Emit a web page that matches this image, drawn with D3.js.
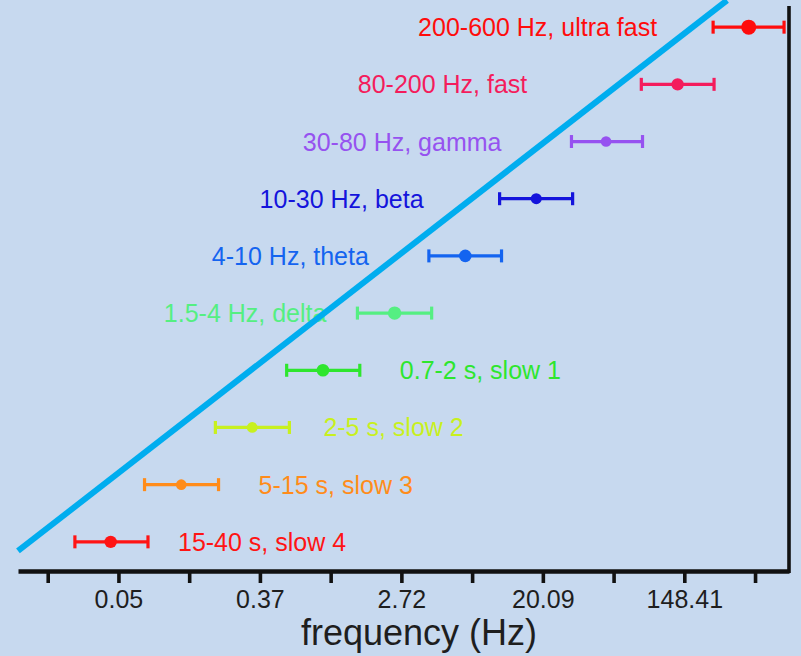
<!DOCTYPE html>
<html>
<head>
<meta charset="utf-8">
<script src="https://cdn.jsdelivr.net/npm/d3@7"></script>
<style>
  html, body { margin: 0; padding: 0; background: #c7d9ef; }
  svg { display: block; }
  text { font-family: "Liberation Sans", Arial, Helvetica, sans-serif; }
</style>
</head>
<body>
<svg id="chart" width="801" height="656"></svg>
<script>
// ---- data (bottom row first) ----
const bands = [
  "15-40 s, slow 4",
  "5-15 s, slow 3",
  "2-5 s, slow 2",
  "0.7-2 s, slow 1",
  "1.5-4 Hz, delta",
  "4-10 Hz, theta",
  "10-30 Hz, beta",
  "30-80 Hz, gamma",
  "80-200 Hz, fast",
  "200-600 Hz, ultra fast"
];
const centerHz = [0.0446, 0.121, 0.330, 0.897, 2.47, 6.71, 18.3, 49.1, 135, 369];
const lowHz    = [0.0269, 0.072, 0.196, 0.537, 1.46, 4.01, 10.9, 30.1, 80.8, 223];
const highHz   = [0.0756, 0.205, 0.558, 1.51, 4.17, 11.2, 30.6, 82.2, 226, 608];
const bandColors = ["#ff1414", "#ff8c1a", "#c8f01e", "#2ee62e", "#55ef82",
                    "#1464f0", "#1414dc", "#9652f0", "#f41c5c", "#ff0c0c"];
const tickExponents = [-4, -3, -2, -1, 0, 1, 2, 3, 4, 5, 6];
const tickLabels = {"-3": "0.05", "-1": "0.37", "1": "2.72", "3": "20.09", "5": "148.41"};
const trendHz  = [0.01203, 271.6];
const trendRow = [-0.16, 9.47];
const xTitle = "frequency (Hz)";

// ---- layout (not data) ----
const labelSide = ["right", "right", "right", "right", "left", "left", "left", "left", "left", "left"];
const labelGap  = [30, 40, 34, 40, 31, 60, 76, 70, 114, 56];
const dotR      = [6.2, 5.3, 5.4, 6.3, 6.7, 6.3, 5.5, 5.3, 6.2, 7.5];

const svg = d3.select("#chart");
svg.append("rect").attr("width", 801).attr("height", 656).attr("fill", "#c7d9ef");

const x = d3.scaleLog().base(Math.E)
  .domain([Math.exp(-4.42), Math.exp(6.48)])
  .range([18, 789]);
const y = d3.scaleLinear().domain([-0.51, 9.37]).range([571, 6]);

// labels
const rows = bands.map((b, i) => ({i, b, c: centerHz[i], lo: lowHz[i], hi: highHz[i], col: bandColors[i]}));
svg.append("g").selectAll("text").data(rows).join("text")
  .attr("x", d => labelSide[d.i] === "right" ? x(d.hi) + labelGap[d.i] : x(d.lo) - labelGap[d.i])
  .attr("y", d => y(d.i) + 9)
  .attr("text-anchor", d => labelSide[d.i] === "right" ? "start" : "end")
  .attr("font-size", 25)
  .attr("fill", d => d.col)
  .text(d => d.b);

// trend line
svg.append("line")
  .attr("x1", x(trendHz[0])).attr("y1", y(trendRow[0]))
  .attr("x2", x(trendHz[1])).attr("y2", y(trendRow[1]))
  .attr("stroke", "#00adef").attr("stroke-width", 6);

// error bars
const g = svg.append("g");
const eb = g.selectAll("g").data(rows).join("g");
eb.append("line")
  .attr("x1", d => x(d.lo)).attr("x2", d => x(d.hi))
  .attr("y1", d => y(d.i)).attr("y2", d => y(d.i))
  .attr("stroke", d => d.col).attr("stroke-width", 3.2);
eb.append("line")
  .attr("x1", d => x(d.lo)).attr("x2", d => x(d.lo))
  .attr("y1", d => y(d.i) - 6.5).attr("y2", d => y(d.i) + 6.5)
  .attr("stroke", d => d.col).attr("stroke-width", 3.2);
eb.append("line")
  .attr("x1", d => x(d.hi)).attr("x2", d => x(d.hi))
  .attr("y1", d => y(d.i) - 6.5).attr("y2", d => y(d.i) + 6.5)
  .attr("stroke", d => d.col).attr("stroke-width", 3.2);
eb.append("circle")
  .attr("cx", d => x(d.c)).attr("cy", d => y(d.i))
  .attr("r", d => dotR[d.i]).attr("fill", d => d.col);

// right frame line
svg.append("line")
  .attr("x1", x.range()[1]).attr("x2", x.range()[1])
  .attr("y1", y(9.37)).attr("y2", y(-0.51) + 2)
  .attr("stroke", "#111").attr("stroke-width", 3.6);

// x axis
const axis = d3.axisBottom(x)
  .tickValues(tickExponents.map(k => Math.exp(k)))
  .tickFormat((v, i) => tickLabels[String(tickExponents[i])] || "")
  .tickSize(12).tickSizeOuter(0).tickPadding(7);
const ax = svg.append("g").attr("transform", `translate(0,${y(-0.51)})`).call(axis);
ax.select(".domain").attr("stroke", "#111").attr("stroke-width", 4.6);
ax.selectAll(".tick line").attr("stroke", "#111").attr("stroke-width", 3.6);
ax.selectAll(".tick text").attr("font-size", 25).attr("fill", "#1e1e1e")
  .attr("font-family", "'Liberation Sans', Arial, Helvetica, sans-serif");

svg.append("text")
  .attr("x", 419).attr("y", 645)
  .attr("text-anchor", "middle")
  .attr("font-size", 36).attr("fill", "#1e1e1e")
  .text(xTitle);
</script>
</body>
</html>
